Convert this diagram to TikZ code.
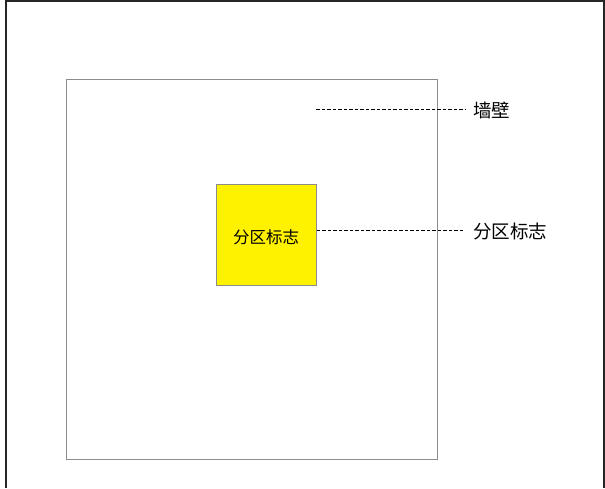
\documentclass[tikz,border=0pt]{standalone}
\usepackage{fontspec}
\newfontfamily\cjk{Noto Sans CJK SC}
\begin{document}
\begin{tikzpicture}[x=1pt,y=-1pt,
  wallbox/.style={draw=black!45,line width=1pt},
  zonebox/.style={draw=black!45,line width=0.8pt,fill=yellow},
  leader/.style={draw=black,dashed,dash pattern=on 3.5pt off 2pt,line width=1pt},
  lbl/.style={font=\cjk\fontsize{18.5}{22}\selectfont,anchor=west,inner sep=0pt}]
\useasboundingbox (0,0) rectangle (605,488);
\fill[white] (0,0) rectangle (605,488);
\draw[line width=1.5pt,black!85] (6,488) -- (6,1) -- (604,1) -- (604,488);
\draw[wallbox] (66,79.5) rectangle (437.5,459);
\node[zonebox,minimum width=100pt,minimum height=101pt,inner sep=0pt] (zone) at (266.5,234.5) {};
\node[font=\cjk\fontsize{16.5}{18}\selectfont,inner sep=0pt] (ztext) at (266,237.5) {分区标志};
\coordinate (w1) at (316,109);
\coordinate (w2) at (465,109);
\coordinate (z2) at (465,230);
\draw[leader] (w1) -- (w2);
\draw[leader] (zone.east |- 0,230) -- (z2);
\node[lbl] (lwall) at (473,110) {墙壁};
\node[lbl] (lzone) at (473,231) {分区标志};
\end{tikzpicture}
\end{document}
